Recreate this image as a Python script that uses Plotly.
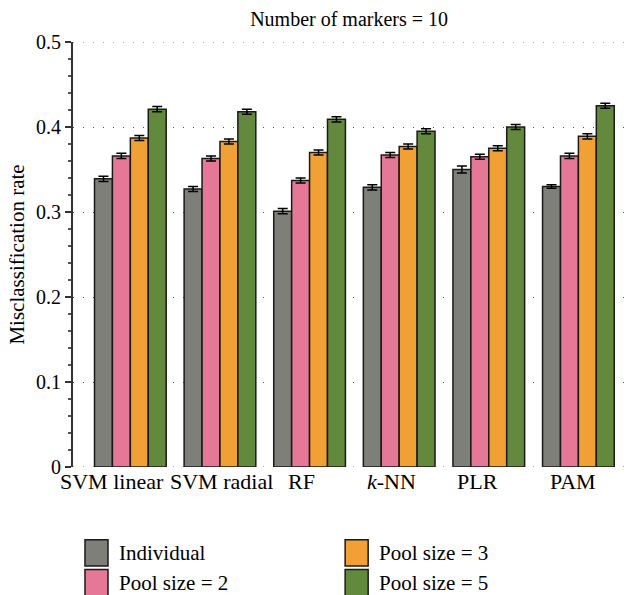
import plotly.graph_objects as go

# Classifiers on the x axis
classifiers = ["SVM linear", "SVM radial", "RF", "<i>k</i>-NN", "PLR", "PAM"]

# Mean misclassification rate per pooling scheme
individual = [0.339, 0.327, 0.301, 0.329, 0.350, 0.330]
pool2 = [0.366, 0.363, 0.337, 0.367, 0.365, 0.366]
pool3 = [0.387, 0.383, 0.370, 0.377, 0.375, 0.389]
pool5 = [0.421, 0.418, 0.409, 0.395, 0.400, 0.425]

# Standard errors
err_individual = [0.003, 0.003, 0.003, 0.003, 0.004, 0.002]
err_pool2 = [0.003, 0.003, 0.003, 0.003, 0.003, 0.003]
err_pool3 = [0.003, 0.003, 0.003, 0.003, 0.003, 0.003]
err_pool5 = [0.003, 0.003, 0.003, 0.003, 0.003, 0.003]

series_names = ["Individual", "Pool size = 2", "Pool size = 3", "Pool size = 5"]
series_values = [individual, pool2, pool3, pool5]
series_errors = [err_individual, err_pool2, err_pool3, err_pool5]
colors = ["#7f7f7a", "#e57797", "#f0a035", "#638a3c"]

# Horizontal nudges of the category labels (px)
label_shift = [-18, 2, -8, -8, -11, -5]

FONT = "Liberation Serif"
FS = 21

fig = go.Figure()
for name, vals, errs, col in zip(series_names, series_values, series_errors, colors):
    fig.add_trace(go.Bar(
        x=classifiers, y=vals, name=name,
        marker=dict(color=col, line=dict(color="#1a1a1a", width=1.5)),
        error_y=dict(type="data", array=errs, visible=True,
                     color="black", thickness=1.5, width=5),
        showlegend=False,
    ))

# Category labels under each group
for cat, dx in zip(classifiers, label_shift):
    fig.add_annotation(x=cat, xref="x", y=0, yref="paper", text=cat,
                       showarrow=False, xanchor="center", yanchor="top",
                       xshift=dx, yshift=0,
                       font=dict(family=FONT, size=22, color="black"))

# Dotted lines at the ends of the value range, behind the bars
for yv in (0, 0.5):
    fig.add_shape(type="line", xref="paper", yref="y", x0=0, x1=1, y0=yv, y1=yv,
                  line=dict(color="#555555", width=1, dash="1px,9px"), layer="below")

# Legend drawn as swatches + labels in two columns
legend_pos = [(0.0217, -0.202), (0.0217, -0.272), (0.493, -0.202), (0.493, -0.272)]
for (lx, ly), name, col in zip(legend_pos, series_names, colors):
    fig.add_shape(type="rect", xref="paper", yref="paper",
                  x0=lx, x1=lx + 0.0417, y0=ly - 0.031, y1=ly + 0.031,
                  fillcolor=col, line=dict(color="#1a1a1a", width=1.5))
    fig.add_annotation(xref="paper", yref="paper", x=lx + 0.058, y=ly,
                       text=name, showarrow=False, xanchor="left",
                       yanchor="middle", font=dict(family=FONT, size=FS, color="black"))

fig.update_layout(
    width=629, height=595,
    margin=dict(l=73, r=4, t=42, b=128),
    paper_bgcolor="white", plot_bgcolor="white",
    barmode="group", bargap=0.2, bargroupgap=0,
    font=dict(family=FONT, size=FS, color="black"),
    title=dict(text="Number of markers = 10", x=0.555, xanchor="center",
               y=0.968, yanchor="middle", font=dict(family=FONT, size=20)),
)
fig.update_xaxes(
    range=[-0.64, 5.52], showgrid=False, ticks="", showline=False,
    showticklabels=False,
)
fig.update_yaxes(
    range=[0, 0.5], tick0=0, dtick=0.1, tickformat="~g",
    showline=True, linecolor="#333333", linewidth=2,
    ticks="outside", ticklen=6, tickwidth=1.5, tickcolor="#333333",
    minor=dict(dtick=0.02, ticks="outside", ticklen=3, tickcolor="#555555", showgrid=False),
    showgrid=True, gridcolor="#555555", griddash="1px,9px", gridwidth=1,
    zeroline=False,
    title=dict(text="Misclassification rate", font=dict(family=FONT, size=FS), standoff=6),
    tickfont=dict(family=FONT, size=20),
)

fig.write_html("out.html")
